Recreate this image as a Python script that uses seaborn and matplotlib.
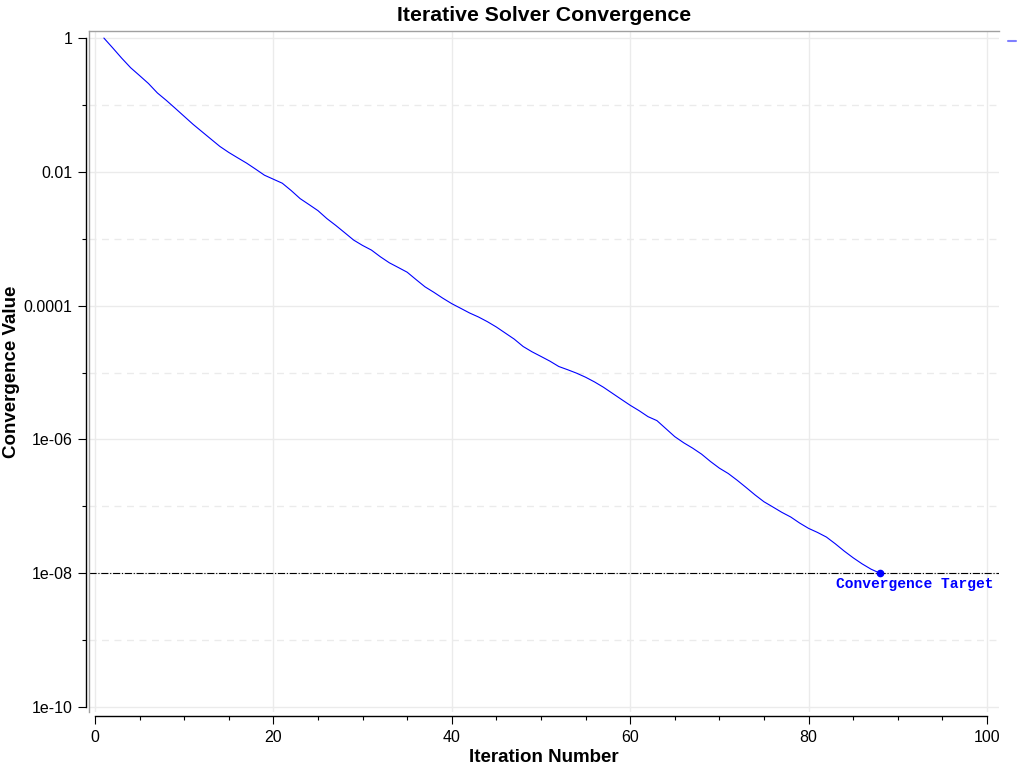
import numpy as np
import pandas as pd
import matplotlib
matplotlib.use("Agg")
import matplotlib.pyplot as plt
import matplotlib.ticker as mticker
import seaborn as sns

# residual, one value per iteration
iterations = list(range(1, 89))
residual = [
    1.0, 0.71, 0.50, 0.36, 0.275, 0.209, 0.151, 0.117, 0.0891, 0.0676,
    0.0513, 0.0398, 0.0309, 0.0240, 0.0195, 0.0162, 0.0135, 0.0110, 0.00891, 0.00776,
    0.00676, 0.00525, 0.00398, 0.00324, 0.00263, 0.00200, 0.00158, 0.00123, 9.55e-4, 7.94e-4,
    6.76e-4, 5.37e-4, 4.37e-4, 3.72e-4, 3.16e-4, 2.45e-4, 1.91e-4, 1.58e-4, 1.29e-4, 1.07e-4,
    9.12e-5, 7.76e-5, 6.76e-5, 5.75e-5, 4.79e-5, 3.89e-5, 3.16e-5, 2.45e-5, 2.04e-5, 1.74e-5,
    1.48e-5, 1.23e-5, 1.10e-5, 9.77e-6, 8.51e-6, 7.24e-6, 6.03e-6, 4.90e-6, 3.98e-6, 3.24e-6,
    2.69e-6, 2.19e-6, 1.91e-6, 1.45e-6, 1.10e-6, 8.91e-7, 7.41e-7, 6.03e-7, 4.68e-7, 3.72e-7,
    3.09e-7, 2.45e-7, 1.91e-7, 1.48e-7, 1.17e-7, 9.77e-8, 8.13e-8, 6.92e-8, 5.62e-8, 4.68e-8,
    4.07e-8, 3.47e-8, 2.75e-8, 2.14e-8, 1.70e-8, 1.38e-8, 1.15e-8, 1.0e-8,
]
target = 1e-8
target_iter = 88
y_ticks = [1, 1e-2, 1e-4, 1e-6, 1e-8, 1e-10]
y_minor = [1e-1, 1e-3, 1e-5, 1e-7, 1e-9]
x_ticks = [0, 20, 40, 60, 80, 100]

df = pd.DataFrame({"iteration": iterations, "residual": residual})

sns.set_style("white")
plt.rcParams["font.family"] = ["Liberation Sans", "DejaVu Sans"]
plt.rcParams["text.color"] = "black"
plt.rcParams["axes.labelcolor"] = "black"
plt.rcParams["xtick.color"] = "black"
plt.rcParams["ytick.color"] = "black"

fig = plt.figure(figsize=(10.24, 7.68), dpi=100)
ax = fig.add_axes([0.0869, 0.0729, 0.9756 - 0.0869, 0.9596 - 0.0729])

sns.lineplot(data=df, x="iteration", y="residual", ax=ax, color="#0000ff",
             linewidth=0.8, label=" ")
ax.set_yscale("log")
ax.set_xlim(-0.67, 101.35)
ax.set_ylim(10 ** -10.075, 10 ** 0.105)

ax.axhline(target, color="black", linewidth=0.8, linestyle="-.", zorder=1)
ax.plot([target_iter], [target], "o", color="#0000ff", markersize=4.5, zorder=4)
ax.annotate("Convergence Target", xy=(1.0, target),
            xycoords=("axes fraction", "data"), xytext=(-4, -3),
            textcoords="offset points", ha="right", va="top",
            color="#0000ff", fontsize=10.5, fontweight="bold",
            family=["Liberation Mono", "DejaVu Sans Mono"])

ax.yaxis.set_major_locator(mticker.FixedLocator(y_ticks))
ax.yaxis.set_minor_locator(mticker.FixedLocator(y_minor))
ax.yaxis.set_major_formatter(mticker.FuncFormatter(lambda v, p: "%g" % v))
ax.yaxis.set_minor_formatter(mticker.NullFormatter())
ax.xaxis.set_major_locator(mticker.FixedLocator(x_ticks))
ax.xaxis.set_minor_locator(mticker.MultipleLocator(5))

ax.grid(which="major", color="#ebebeb", linewidth=1, linestyle="-")
ax.grid(which="minor", axis="y", color="#ebebeb", linewidth=1, linestyle=(0, (5, 4)))

ax.tick_params(which="major", direction="out", length=6, width=0.8,
               labelsize=11.5, color="black", left=True, bottom=True, pad=4)
ax.tick_params(which="minor", direction="out", length=3.2, width=0.8,
               color="black", left=True, bottom=True)

# black offset axis lines, grey frame on top and left
for side in ["left", "bottom"]:
    ax.spines[side].set_color("black")
    ax.spines[side].set_linewidth(1.0)
ax.spines["left"].set_position(("outward", 1.8))
ax.spines["bottom"].set_position(("outward", 3))
ax.spines["left"].set_bounds(1e-10, 1)
ax.spines["bottom"].set_bounds(0, 100)
ax.spines["top"].set_color("#a0a0a0")
ax.spines["top"].set_linewidth(1.0)
ax.spines["right"].set_position(("axes", 0))
ax.spines["right"].set_color("#a0a0a0")
ax.spines["right"].set_linewidth(1.0)

ax.set_title("Iterative Solver Convergence", fontsize=15.3, fontweight="bold", pad=7)
ax.set_xlabel("Iteration Number", fontsize=13.5, fontweight="bold", labelpad=3)
ax.set_ylabel("Convergence Value", fontsize=13.5, fontweight="bold")
ax.yaxis.set_label_coords(-0.076, 0.5)

leg = ax.legend(loc="upper left", bbox_to_anchor=(1.0 + 9 / 910, 1.0 - 4 / 681),
                frameon=False, handlelength=0.55, borderpad=0,
                borderaxespad=0, handletextpad=0.2)
for h in leg.legend_handles:
    h.set_alpha(0.5)
    h.set_linewidth(1.5)

fig.savefig("out.png", dpi=100)
